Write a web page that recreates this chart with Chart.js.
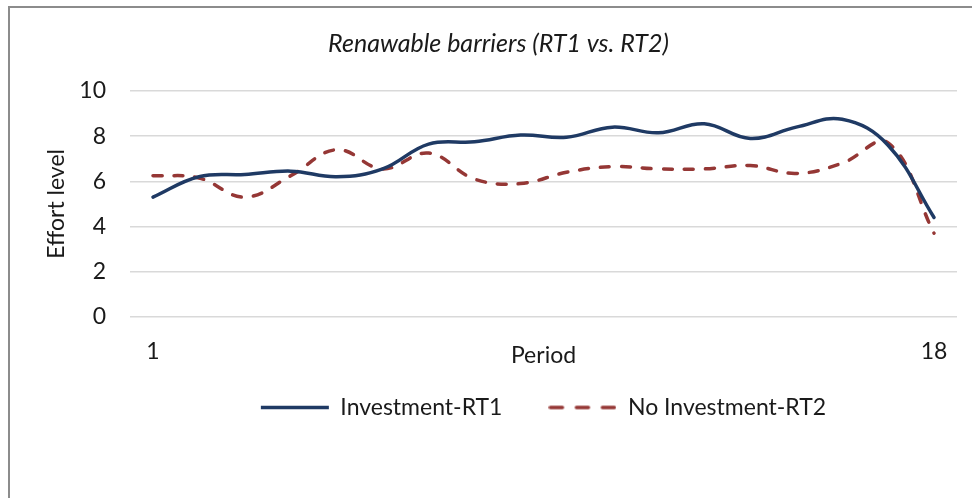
<!DOCTYPE html>
<html>
<head>
<meta charset="utf-8">
<script src="https://cdn.jsdelivr.net/npm/chart.js@4"></script>
<style>
    html, body {
        margin: 0;
        padding: 0;
        background: #ffffff;
    }
    #frame {
        position: absolute;
        left: 8px;
        top: 6px;
        width: 962px;
        height: 500px;
        border-left: 2px solid #8c8c8c;
        border-top: 2px solid #8c8c8c;
    }
    #wrap {
        position: absolute;
        left: 0;
        top: 0;
        width: 973px;
        height: 498px;
    }
</style>
</head>
<body>
<div id="frame"></div>
<div id="wrap"><canvas id="effortChart" width="973" height="498"></canvas></div>
<script>
// Chart data
const periods = ["1", "2", "3", "4", "5", "6", "7", "8", "9", "10", "11", "12", "13", "14", "15", "16", "17", "18"];
const investmentRT1 = [5.3, 6.2, 6.3, 6.45, 6.2, 6.55, 7.65, 7.75, 8.05, 7.95, 8.4, 8.15, 8.55, 7.9, 8.4, 8.75, 7.6, 4.4];
const noInvestmentRT2 = [6.25, 6.15, 5.3, 6.25, 7.4, 6.55, 7.25, 6.1, 5.9, 6.4, 6.65, 6.55, 6.55, 6.7, 6.35, 6.8, 7.7, 3.7];
const yTicks = [0, 2, 4, 6, 8, 10];

const fontFamily = "Lato, 'Open Sans', sans-serif";
const textColor = "#1a1a1a";
const blue = "#1f3a64";
const red = "#953735";

// legend swatch for the dashed series (point-style legend ignores borderDash)
function dashedSwatch(color) {
    const c = document.createElement("canvas");
    c.width = 68;
    c.height = 8;
    const g = c.getContext("2d");
    g.strokeStyle = color;
    g.lineWidth = 3.5;
    g.lineCap = "round";
    g.setLineDash([12, 14]);
    g.beginPath();
    g.moveTo(2, 4);
    g.lineTo(66, 4);
    g.stroke();
    return c;
}

const ctx = document.getElementById("effortChart").getContext("2d");

new Chart(ctx, {
    type: "line",
    data: {
        labels: periods,
        datasets: [
            {
                label: "Investment-RT1",
                data: investmentRT1,
                borderColor: blue,
                backgroundColor: blue,
                borderWidth: 3.5,
                borderCapStyle: "round",
                pointRadius: 0,
                pointStyle: "line",
                tension: 0.4,
                fill: false,
            },
            {
                label: "No Investment-RT2",
                data: noInvestmentRT2,
                borderColor: red,
                backgroundColor: red,
                borderWidth: 3.5,
                borderDash: [9, 12],
                borderCapStyle: "round",
                pointRadius: 0,
                pointStyle: dashedSwatch(red),
                tension: 0.4,
                fill: false,
            },
        ],
    },
    options: {
        responsive: false,
        animation: false,
        layout: {
            padding: { left: 40, right: 16, top: 0, bottom: 69 },
        },
        plugins: {
            title: {
                display: true,
                text: "Renawable barriers (RT1 vs. RT2)",
                color: textColor,
                font: { family: fontFamily, size: 25, style: "italic", weight: "normal" },
                padding: { top: 29, bottom: 32 },
            },
            legend: {
                position: "bottom",
                fullSize: false,
                // empty title with negative padding pulls the items up
                title: {
                    display: true,
                    text: "",
                    font: { size: 1 },
                    padding: { top: -18, bottom: 0 },
                },
                labels: {
                    usePointStyle: true,
                    pointStyleWidth: 68,
                    padding: 46,
                    color: textColor,
                    font: { family: fontFamily, size: 23 },
                },
            },
            tooltip: { enabled: false },
        },
        scales: {
            x: {
                offset: true,
                grid: { display: false, drawTicks: false },
                border: { display: false },
                ticks: {
                    autoSkip: false,
                    maxRotation: 0,
                    padding: 21,
                    color: textColor,
                    font: { family: fontFamily, size: 23 },
                    callback: function (value, index) {
                        if (index === 0 || index === periods.length - 1) {
                            return periods[index];
                        }
                        return "";
                    },
                },
                title: {
                    display: true,
                    text: "Period",
                    color: textColor,
                    font: { family: fontFamily, size: 23 },
                    padding: { top: 0, bottom: -3 },
                },
                afterFit: (scale) => {
                    scale.height = 50;
                },
            },
            y: {
                min: 0,
                max: 10,
                afterBuildTicks: (scale) => {
                    scale.ticks = yTicks.map((v) => ({ value: v }));
                },
                grid: {
                    color: "#d9d9d9",
                    lineWidth: 1.5,
                    drawTicks: false,
                },
                border: { display: false },
                ticks: {
                    padding: 24,
                    color: textColor,
                    font: { family: fontFamily, size: 23 },
                },
                title: {
                    display: true,
                    text: "Effort level",
                    color: textColor,
                    font: { family: fontFamily, size: 23 },
                    padding: { top: 3, bottom: 0 },
                },
                afterFit: (scale) => {
                    scale.width = 90;
                },
            },
        },
    },
});
</script>
</body>
</html>
